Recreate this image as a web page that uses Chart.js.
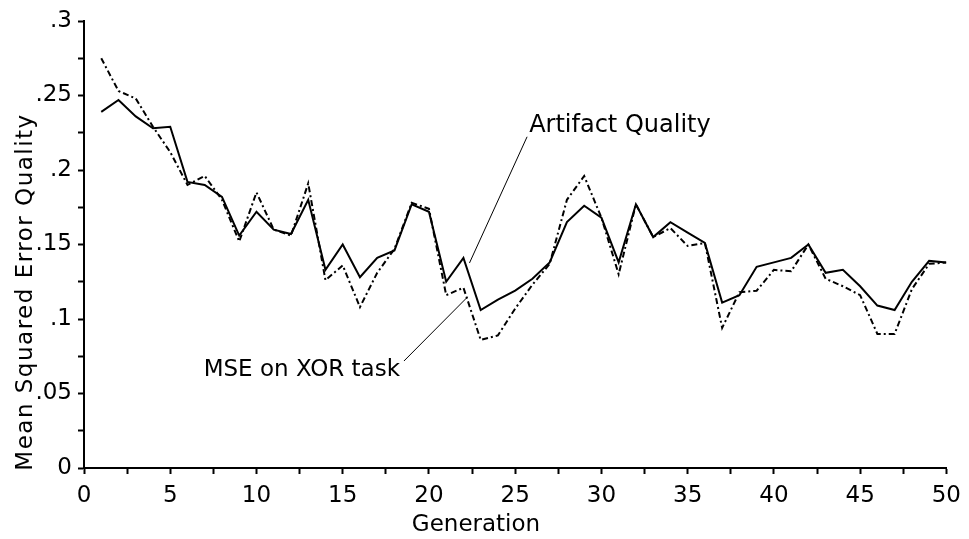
<!DOCTYPE html>
<html>
<head>
<meta charset="utf-8">
<script src="https://cdn.jsdelivr.net/npm/chart.js@4"></script>
<style>
  html, body { margin: 0; padding: 0; background: #fff; }
  #wrap { width: 969px; height: 539px; }
</style>
</head>
<body>
<div id="wrap"><canvas id="chart" width="969" height="539"></canvas></div>
<script>
const generations = [1, 2, 3, 4, 5, 6, 7, 8, 9, 10, 11, 12, 13, 14, 15, 16, 17, 18, 19, 20,
  21, 22, 23, 24, 25, 26, 27, 28, 29, 30, 31, 32, 33, 34, 35, 36, 37, 38, 39, 40,
  41, 42, 43, 44, 45, 46, 47, 48, 49, 50];

// solid line
const artifactQuality = [0.239, 0.247, 0.236, 0.228, 0.229, 0.192, 0.190, 0.182, 0.156, 0.172,
  0.160, 0.157, 0.180, 0.133, 0.150, 0.128, 0.141, 0.146, 0.177, 0.172,
  0.125, 0.141, 0.106, 0.113, 0.119, 0.127, 0.138, 0.165, 0.176, 0.168,
  0.138, 0.177, 0.155, 0.165, 0.158, 0.151, 0.111, 0.116, 0.135, 0.138,
  0.141, 0.150, 0.131, 0.133, 0.122, 0.109, 0.106, 0.125, 0.139, 0.138];

// dash-dot line
const mseXor = [0.275, 0.253, 0.248, 0.229, 0.212, 0.190, 0.196, 0.180, 0.152, 0.185,
  0.160, 0.156, 0.191, 0.126, 0.136, 0.108, 0.131, 0.147, 0.178, 0.174,
  0.116, 0.121, 0.086, 0.089, 0.107, 0.123, 0.137, 0.180, 0.196, 0.168,
  0.130, 0.177, 0.155, 0.161, 0.149, 0.151, 0.094, 0.118, 0.119, 0.133,
  0.132, 0.150, 0.127, 0.122, 0.116, 0.090, 0.090, 0.120, 0.137, 0.138];

const xTickLabels = ['0', '5', '10', '15', '20', '25', '30', '35', '40', '45', '50'];
const yTickLabels = ['0', '.05', '.1', '.15', '.2', '.25', '.3'];

const FONT = 'DejaVu Sans';

// text labels and pointer lines drawn on top
const annotations = {
  id: 'annotations',
  afterDraw(chart) {
    const { ctx, scales: { x, y } } = chart;
    ctx.save();
    ctx.fillStyle = '#000';
    ctx.strokeStyle = '#000';
    ctx.lineWidth = 1;

    // pointer lines
    ctx.beginPath();
    ctx.moveTo(x.getPixelForValue(25.69), y.getPixelForValue(0.2223));
    ctx.lineTo(x.getPixelForValue(22.35), y.getPixelForValue(0.1376));
    ctx.moveTo(x.getPixelForValue(18.55), y.getPixelForValue(0.0718));
    ctx.lineTo(x.getPixelForValue(22.24), y.getPixelForValue(0.1148));
    ctx.stroke();

    ctx.font = '24px "' + FONT + '"';
    ctx.textBaseline = 'alphabetic';
    ctx.textAlign = 'left';
    ctx.fillText('Artifact Quality', x.getPixelForValue(25.81), y.getPixelForValue(0.2255));

    ctx.font = '23px "' + FONT + '"';
    ctx.textAlign = 'right';
    ctx.fillText('MSE on XOR task', x.getPixelForValue(18.32), y.getPixelForValue(0.0617));

    // axis titles
    ctx.textAlign = 'center';
    ctx.fillText('Generation', 476, 531);

    ctx.translate(32, 292);
    ctx.rotate(-Math.PI / 2);
    ctx.letterSpacing = '1.5px';
    ctx.fillText('Mean Squared Error Quality', 0, 0);
    ctx.restore();
  }
};

new Chart(document.getElementById('chart'), {
  type: 'line',
  data: {
    datasets: [
      {
        label: 'Artifact Quality',
        data: generations.map((g, i) => ({ x: g, y: artifactQuality[i] })),
        borderColor: '#000',
        borderWidth: 2,
        pointRadius: 0,
        tension: 0,
        fill: false
      },
      {
        label: 'MSE on XOR task',
        data: generations.map((g, i) => ({ x: g, y: mseXor[i] })),
        borderColor: '#000',
        borderWidth: 2,
        borderDash: [6, 3, 2, 3],
        pointRadius: 0,
        tension: 0,
        fill: false
      }
    ]
  },
  options: {
    responsive: false,
    animation: false,
    layout: { padding: { top: 21, right: 17, left: 0, bottom: 0 } },
    plugins: {
      legend: { display: false },
      tooltip: { enabled: false }
    },
    scales: {
      x: {
        type: 'linear',
        min: 0,
        max: 50,
        afterFit: s => { s.height = 71; },
        border: { color: '#000', width: 2 },
        grid: { drawOnChartArea: false, color: '#000', tickLength: 6, tickWidth: 2 },
        ticks: {
          stepSize: 2.5,
          autoSkip: false,
          maxRotation: 0,
          padding: 8,
          color: '#000',
          font: { family: FONT, size: 23 },
          callback: v => {
            const k = Math.round(v * 10);
            return k % 50 === 0 ? xTickLabels[k / 50] : '';
          }
        }
      },
      y: {
        min: 0,
        max: 0.3,
        afterFit: s => { s.width = 84; },
        border: { color: '#000', width: 2 },
        grid: { drawOnChartArea: false, color: '#000', tickLength: 6, tickWidth: 2 },
        ticks: {
          stepSize: 0.025,
          autoSkip: false,
          padding: 6,
          color: '#000',
          font: { family: FONT, size: 23 },
          callback: v => {
            const k = Math.round(v * 1000);
            return k % 50 === 0 ? yTickLabels[k / 50] : '';
          }
        }
      }
    }
  },
  plugins: [annotations]
});
</script>
</body>
</html>
